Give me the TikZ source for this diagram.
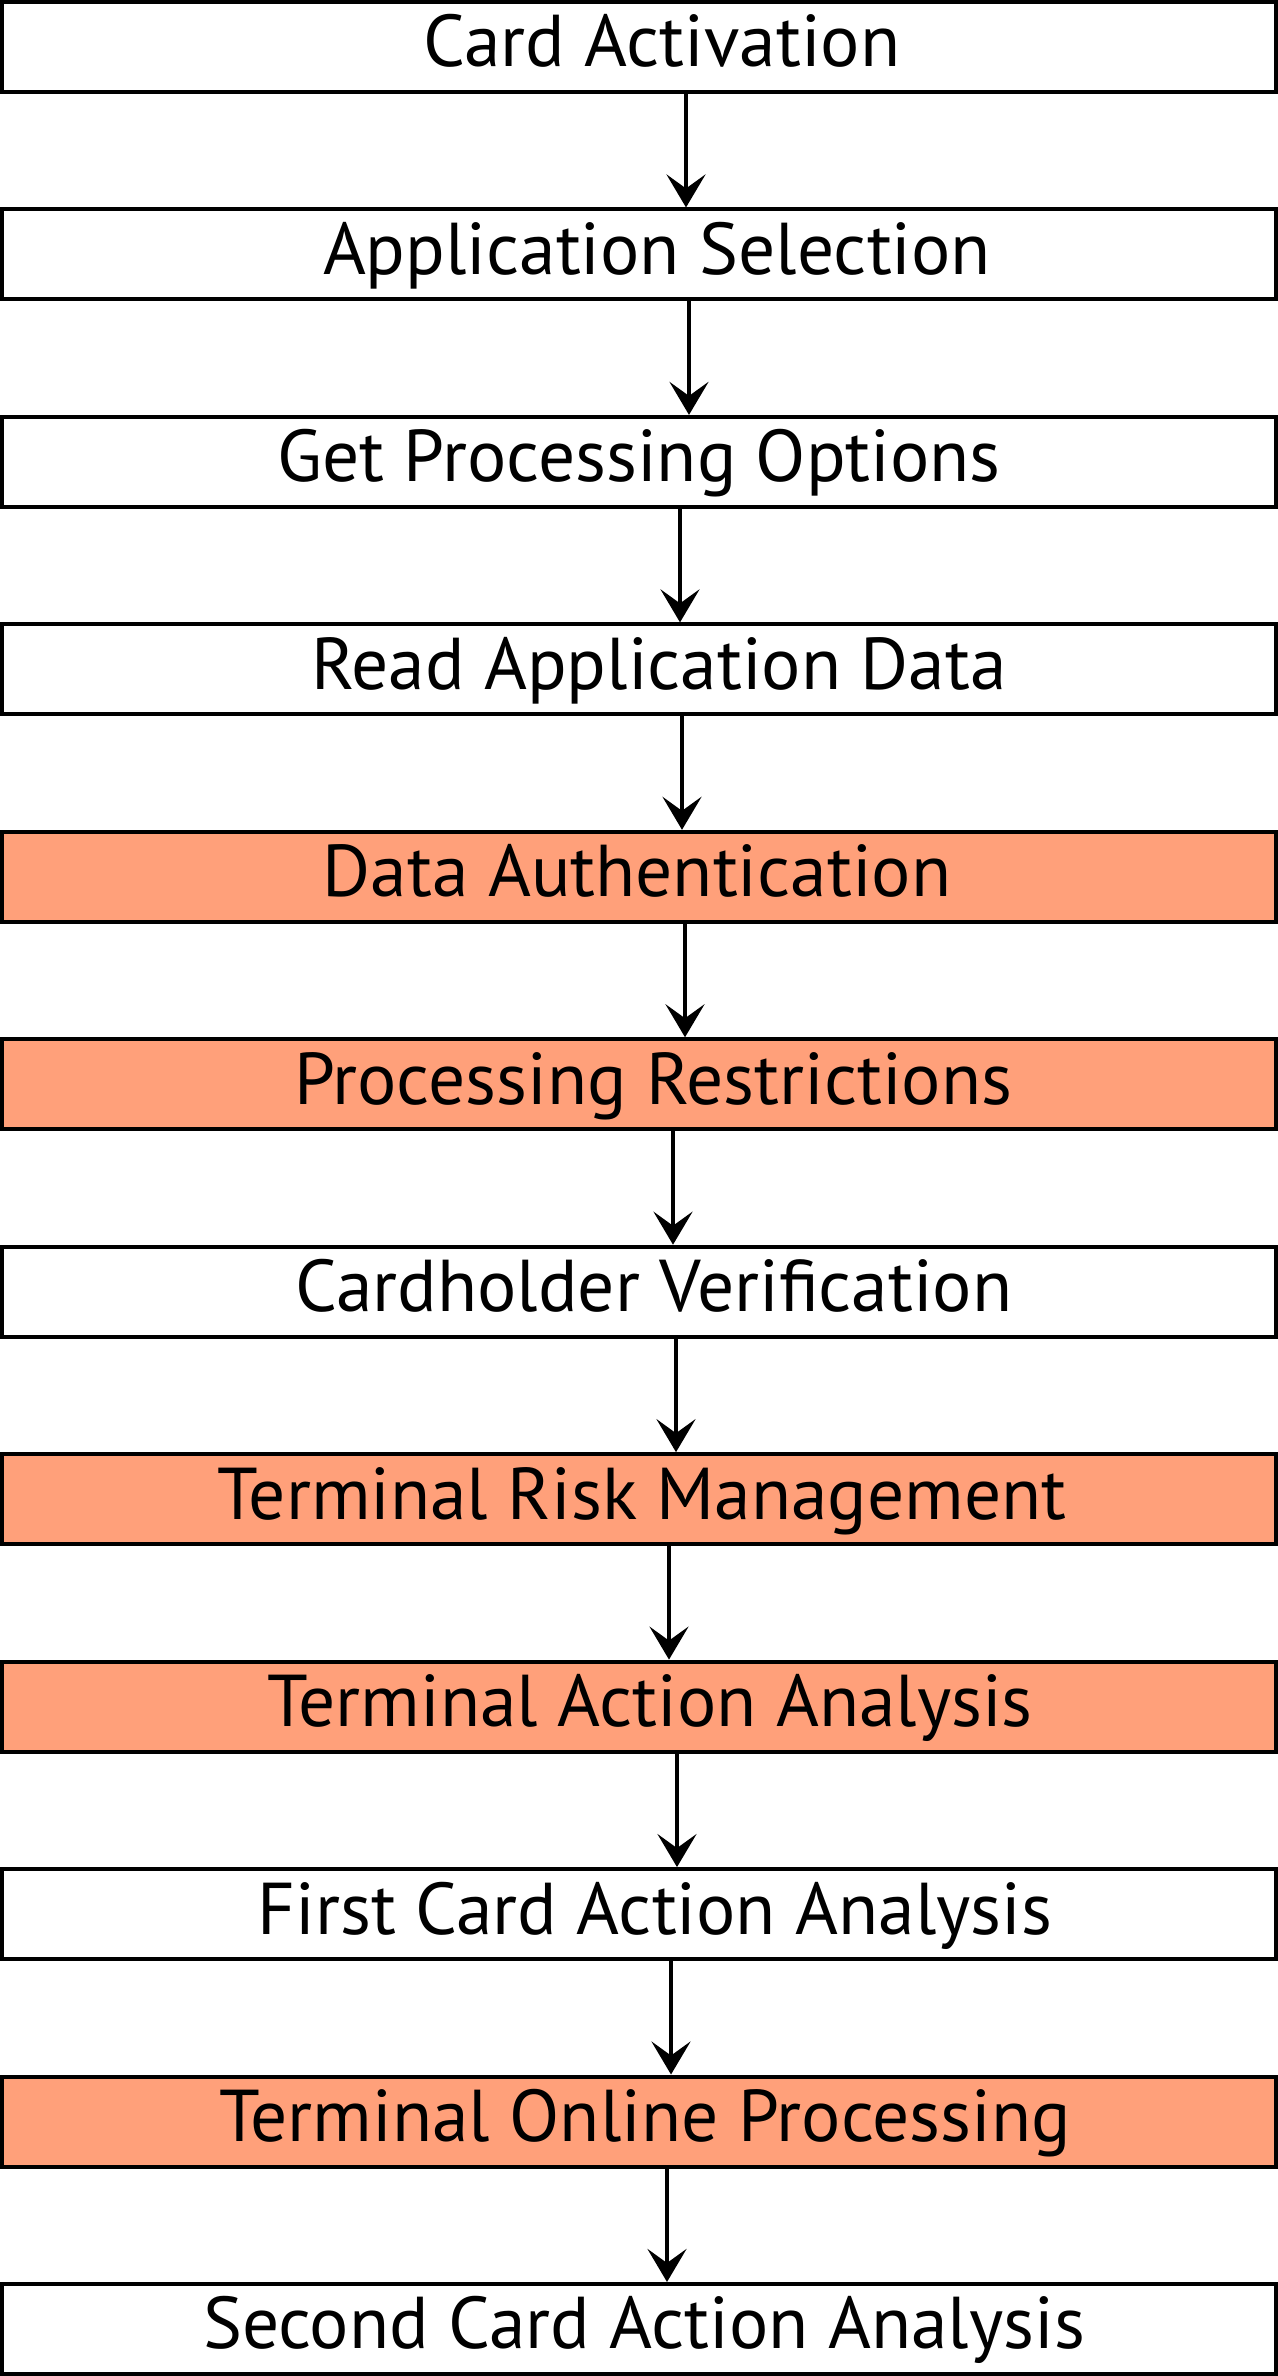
\documentclass[tikz,border=0pt]{standalone}
\usepackage{fontspec}
\setmainfont{PT Sans}
\usetikzlibrary{arrows.meta}
\definecolor{salmon}{HTML}{FFA07A}
\tikzset{
  stagebox/.style={draw=black, line width=2pt, minimum width=637pt, minimum height=45pt, inner sep=0pt},
  hot/.style={stagebox, fill=salmon},
  cool/.style={stagebox, fill=white},
  lbl/.style={anchor=base, inner sep=0pt, font=\fontsize{36.7}{42}\selectfont},
  arr/.style={line width=2pt, -{Stealth[length=16.5pt, width=19.5pt, inset=7pt]}}
}
\begin{document}
\begin{tikzpicture}[x=0.5pt, y=-0.5pt]
\useasboundingbox (0,0) rectangle (1278,2376);
\def\pitch{207.45}
% boxes
\node[cool] (b1)  at (639, {0*\pitch+47}) {};
\node[cool] (b2)  at (639, {1*\pitch+47}) {};
\node[cool] (b3)  at (639, {2*\pitch+47}) {};
\node[cool] (b4)  at (639, {3*\pitch+47}) {};
\node[hot]  (b5)  at (639, {4*\pitch+47}) {};
\node[hot]  (b6)  at (639, {5*\pitch+47}) {};
\node[cool] (b7)  at (639, {6*\pitch+47}) {};
\node[hot]  (b8)  at (639, {7*\pitch+47}) {};
\node[hot]  (b9)  at (639, {8*\pitch+47}) {};
\node[cool] (b10) at (639, {9*\pitch+47}) {};
\node[hot]  (b11) at (639, {10*\pitch+47}) {};
\node[cool] (b12) at (639, {11*\pitch+47}) {};
% labels
\node[lbl] (t1)  at (662, {0*\pitch+67}) {Card Activation};
\node[lbl] (t2)  at (657, {1*\pitch+67}) {Application Selection};
\node[lbl] (t3)  at (639, {2*\pitch+67}) {Get Processing Options};
\node[lbl] (t4)  at (659, {3*\pitch+67}) {Read Application Data};
\node[lbl] (t5)  at (637, {4*\pitch+67}) {Data Authentication};
\node[lbl] (t6)  at (653, {5*\pitch+67}) {Processing Restrictions};
\node[lbl] (t7)  at (654, {6*\pitch+67}) {Cardholder Verification};
\node[lbl] (t8)  at (642, {7*\pitch+67}) {Terminal Risk Management};
\node[lbl] (t9)  at (650, {8*\pitch+67}) {Terminal Action Analysis};
\node[lbl] (t10) at (655, {9*\pitch+67}) {First Card Action Analysis};
\node[lbl] (t11) at (645, {10*\pitch+67}) {Terminal Online Processing};
\node[lbl] (t12) at (644, {11*\pitch+67}) {Second Card Action Analysis};
% arrows (offset from box centre)
\draw[arr] ([xshift=23.5pt]b1.south)  -- ([xshift=23.5pt]b2.north);
\draw[arr] ([xshift=25pt]b2.south)    -- ([xshift=25pt]b3.north);
\draw[arr] ([xshift=20.5pt]b3.south)  -- ([xshift=20.5pt]b4.north);
\draw[arr] ([xshift=21.5pt]b4.south)  -- ([xshift=21.5pt]b5.north);
\draw[arr] ([xshift=23pt]b5.south)    -- ([xshift=23pt]b6.north);
\draw[arr] ([xshift=17pt]b6.south)    -- ([xshift=17pt]b7.north);
\draw[arr] ([xshift=18.5pt]b7.south)  -- ([xshift=18.5pt]b8.north);
\draw[arr] ([xshift=15pt]b8.south)    -- ([xshift=15pt]b9.north);
\draw[arr] ([xshift=19pt]b9.south)    -- ([xshift=19pt]b10.north);
\draw[arr] ([xshift=16pt]b10.south)   -- ([xshift=16pt]b11.north);
\draw[arr] ([xshift=14pt]b11.south)   -- ([xshift=14pt]b12.north);
\end{tikzpicture}
\end{document}
